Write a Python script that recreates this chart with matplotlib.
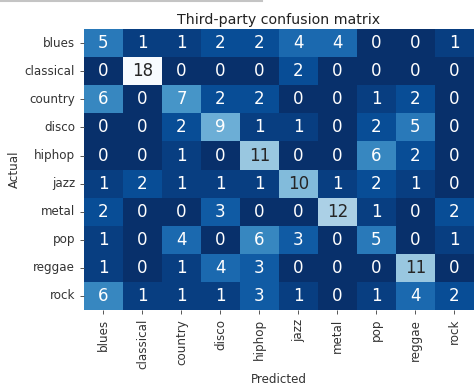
import numpy as np
import matplotlib.pyplot as plt
import seaborn as sns
from matplotlib.lines import Line2D

genres = ["blues", "classical", "country", "disco", "hiphop",
          "jazz", "metal", "pop", "reggae", "rock"]

# rows = actual genre, columns = predicted genre
counts = np.array([
    [5, 1, 1, 2, 2, 4, 4, 0, 0, 1],
    [0, 18, 0, 0, 0, 2, 0, 0, 0, 0],
    [6, 0, 7, 2, 2, 0, 0, 1, 2, 0],
    [0, 0, 2, 9, 1, 1, 0, 2, 5, 0],
    [0, 0, 1, 0, 11, 0, 0, 6, 2, 0],
    [1, 2, 1, 1, 1, 10, 1, 2, 1, 0],
    [2, 0, 0, 3, 0, 0, 12, 1, 0, 2],
    [1, 0, 4, 0, 6, 3, 0, 5, 0, 1],
    [1, 0, 1, 4, 3, 0, 0, 0, 11, 0],
    [6, 1, 1, 1, 3, 1, 0, 1, 4, 2],
])

fig = plt.figure(figsize=(4.74, 3.88), dpi=100)
ax = fig.add_axes([0.177, 0.201, 0.823, 0.724])

sns.heatmap(counts, annot=True, fmt="d", cmap="Blues_r", cbar=False,
            xticklabels=genres, yticklabels=genres, ax=ax,
            annot_kws={"size": 12})

ax.set_title("Third-party confusion matrix", fontsize=10.2, pad=4, color="#222222")
ax.set_xlabel("Predicted", fontsize=8.6, color="#333333", labelpad=3)
ax.set_ylabel("Actual", fontsize=8.6, color="#333333", labelpad=3)
ax.tick_params(labelsize=8.6, length=2.8, width=0.7, labelcolor="#333333",
               color="#555555")
plt.setp(ax.get_xticklabels(), rotation=90)
plt.setp(ax.get_yticklabels(), rotation=0)

# thin grey rule along the top edge
fig.add_artist(Line2D([0, 0.553], [0.997, 0.997], color="#c4c4c4", lw=1.5,
                      transform=fig.transFigure))

fig.savefig("out.png", dpi=100)
